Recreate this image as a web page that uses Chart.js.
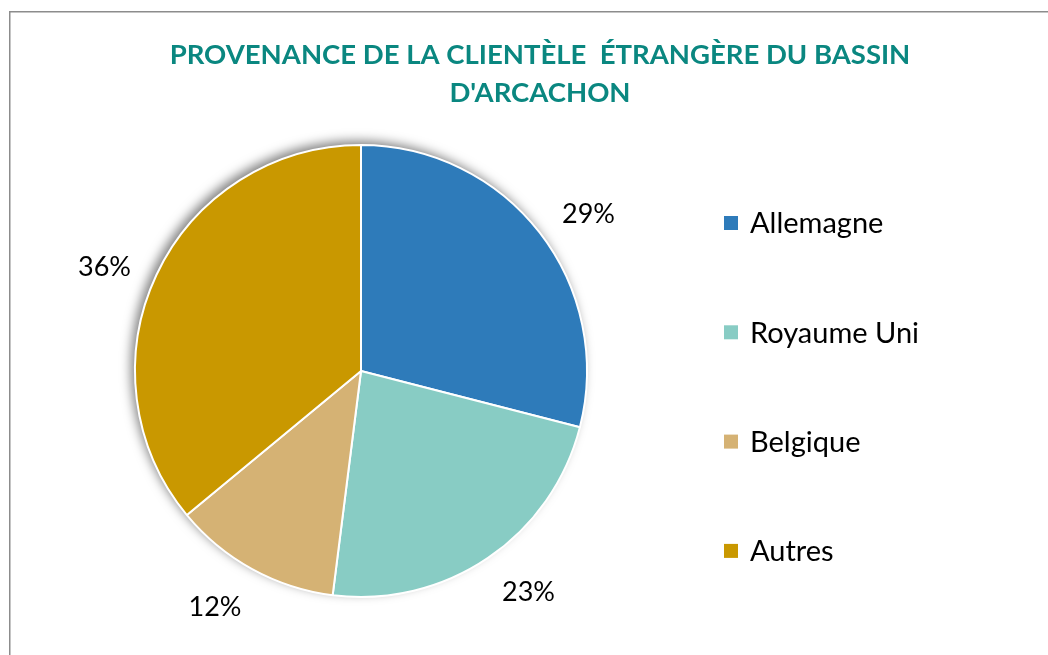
<!DOCTYPE html>
<html>
<head>
<meta charset="utf-8">
<script src="https://cdn.jsdelivr.net/npm/chart.js@4/dist/chart.umd.min.js"></script>
<style>
  html, body { margin: 0; padding: 0; background: #fff; }
  #wrap { width: 1048px; height: 655px; }
</style>
</head>
<body>
<div id="wrap"><canvas id="pie" width="1048" height="655"></canvas></div>
<script>
// data
const countries = ['Allemagne', 'Royaume Uni', 'Belgique', 'Autres'];
const shares = [29, 23, 12, 36];
const sliceColors = ['#2E7BBA', '#88CCC4', '#D5B274', '#C99800'];
const titleLines = ['PROVENANCE DE LA CLIENTÈLE  ÉTRANGÈRE DU BASSIN', "D'ARCACHON"];

const labelFont = '27px Lato, "Liberation Sans", sans-serif';
const legendFont = '29px Lato, "Liberation Sans", sans-serif';

// frame, title, shadow, labels and legend
const decor = {
    id: 'decor',
    beforeDraw(chart) {
        const ctx = chart.ctx;
        ctx.save();
        ctx.fillStyle = '#fff';
        ctx.fillRect(0, 0, chart.width, chart.height);
        ctx.strokeStyle = '#8c8c8c';
        ctx.lineWidth = 1.5;
        ctx.strokeRect(9.75, 11.75, 1200, 800);
        // title
        ctx.fillStyle = '#0A8780';
        ctx.font = 'bold 27.5px Lato, "Liberation Sans", sans-serif';
        ctx.textAlign = 'center';
        ctx.textBaseline = 'middle';
        ctx.fillText(titleLines[0], 540, 55);
        ctx.fillText(titleLines[1], 540, 93);
        ctx.restore();
    },
    beforeDatasetsDraw(chart) {
        const arc = chart.getDatasetMeta(0).data[0];
        if (!arc) return;
        const ctx = chart.ctx;
        ctx.save();
        ctx.shadowColor = 'rgba(0,0,0,0.5)';
        ctx.shadowBlur = 11;
        ctx.shadowOffsetX = -4;
        ctx.shadowOffsetY = -4;
        ctx.fillStyle = '#fff';
        ctx.beginPath();
        ctx.arc(arc.x, arc.y, arc.outerRadius, 0, Math.PI * 2);
        ctx.fill();
        ctx.restore();
    },
    afterDatasetsDraw(chart) {
        const ctx = chart.ctx;
        const meta = chart.getDatasetMeta(0);
        const total = shares.reduce((a, b) => a + b, 0);
        const nudge = 3 * Math.PI / 180;
        ctx.save();
        ctx.font = labelFont;
        ctx.fillStyle = '#000';
        ctx.textAlign = 'center';
        ctx.textBaseline = 'middle';
        meta.data.forEach((el, i) => {
            let mid = (el.startAngle + el.endAngle) / 2;
            // Excel's best fit leans the labels a bit toward the horizontal
            const sn = Math.sin(mid), cs = Math.cos(mid);
            mid += (sn * cs > 0 ? -1 : 1) * nudge;
            const pct = Math.round(shares[i] / total * 100) + '%';
            const r = el.outerRadius + 51;
            ctx.fillText(pct, el.x + Math.cos(mid) * r, el.y + Math.sin(mid) * r + 1);
        });

        // legend
        ctx.font = legendFont;
        ctx.textAlign = 'left';
        countries.forEach((name, i) => {
            const y = 223 + i * 109.3;
            ctx.fillStyle = sliceColors[i];
            ctx.fillRect(724, y - 7, 14, 14);
            ctx.fillStyle = '#000';
            ctx.fillText(name, 750, y + 1);
        });
        ctx.restore();
    }
};

new Chart(document.getElementById('pie'), {
    type: 'pie',
    data: {
        labels: countries,
        datasets: [{
            data: shares,
            backgroundColor: sliceColors,
            borderColor: '#fff',
            borderWidth: 2
        }]
    },
    options: {
        responsive: false,
        animation: false,
        layout: { padding: { left: 134, right: 460, top: 144, bottom: 57 } },
        plugins: {
            legend: { display: false },
            title: { display: false },
            tooltip: { enabled: false }
        }
    },
    plugins: [decor]
});
</script>
</body>
</html>
